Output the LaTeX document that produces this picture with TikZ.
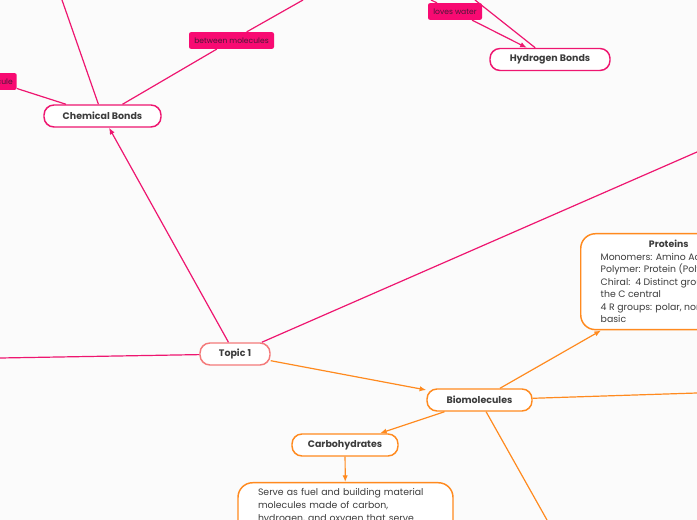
\documentclass[tikz,border=0pt]{standalone}
\usepackage{fontspec}
\setmainfont{Poppins}
\usetikzlibrary{arrows.meta}
\definecolor{pinkc}{HTML}{EE1670}
\definecolor{lblfill}{HTML}{F80A72}
\definecolor{lbltext}{HTML}{4A1838}
\definecolor{orangec}{HTML}{FF8A1F}
\definecolor{salmonc}{HTML}{F47A7A}
\definecolor{bgc}{HTML}{FBFBFB}
\definecolor{txtc}{HTML}{3C3C3C}
\begin{document}
\begin{tikzpicture}[x=0.75pt,y=-0.75pt,
  topicbox/.style={draw=#1, line width=1.1pt, fill=white, rounded corners=7.5pt,
    minimum height=16.5pt, inner sep=0pt, text=txtc,
    font=\fontsize{7.1}{8}\selectfont\bfseries},
  lbl/.style={fill=lblfill, rounded corners=1.5pt, minimum height=12.5pt, inner xsep=3pt,
    inner ysep=0pt, text=lbltext, font=\fontsize{5.7}{6}\selectfont},
  descbox/.style={draw=orangec, line width=1.1pt, fill=white, rounded corners=11pt,
    inner xsep=15pt, inner ysep=5pt, align=left, text=txtc},
  pinkline/.style={draw=pinkc, line width=0.9pt},
  orline/.style={draw=orangec, line width=0.9pt},
  arr/.style={-{Latex[length=5pt,width=4pt]}}
]
\useasboundingbox (0,0) rectangle (697,520);
\fill[bgc] (0,0) rectangle (697,520);
\clip (0,0) rectangle (697,520);

% free ends
\coordinate (leftEnd) at (0,358);
\coordinate (upRight) at (697,152);
\coordinate (chemTop) at (62,0);
\coordinate (chemTopR) at (303,0);
\coordinate (chemLeft) at (-80,64);
\coordinate (hbTopA) at (431,0);
\coordinate (hbTopB) at (475,0);
\coordinate (bioRight) at (697,393);
\coordinate (bioDown) at (547,520);

% main nodes
\node[topicbox=salmonc, minimum width=52.5pt] (topic) at (235,354) {Topic 1};
\node[topicbox=pinkc, minimum width=87.75pt] (chem) at (102.5,116) {Chemical Bonds};
\node[topicbox=pinkc, minimum width=90pt] (hb) at (550,59.5) {Hydrogen Bonds};
\node[topicbox=orangec, minimum width=78.75pt] (bio) at (479.5,400) {Biomolecules};
\node[topicbox=orangec, minimum width=79.5pt] (carb) at (345,445) {Carbohydrates};

\node[descbox, anchor=north west,
  font=\fontsize{7}{9.375}\selectfont] (prot) at (580,233)
  {\makebox[102pt][c]{\textbf{Proteins}}\\
   Monomers: Amino Acids\\
   Polymer: Protein (Polypeptide)\\
   Chiral:\ \ 4 Distinct groups around\\
   the C central\\
   4 R groups: polar, nonpolar, acidic,\\
   basic};
\coordinate (protIn) at (601,330.5);

\node[descbox, anchor=north, text width=131.25pt, inner ysep=4pt,
  font=\fontsize{7}{9.75}\selectfont] (carbdesc) at (345.5,482)
  {Serve as fuel and building material\\
   molecules made of carbon,\\
   hydrogen, and oxygen that serve\rule[-30pt]{0pt}{30pt}};

% labels
\node[lbl, minimum width=63.75pt] (betw) at (231.5,40.5) {between molecules};
\node[lbl, minimum width=40.5pt] (loves) at (455,11.5) {loves water};
\node[lbl, anchor=east] (molec) at (17,81.5) {molecule};

% connectors
\draw[pinkline, arr] (topic) -- (chem);
\draw[pinkline] (topic) -- (leftEnd);
\draw[pinkline] (topic) -- (upRight);
\draw[pinkline] (chem) -- (chemTop);
\draw[pinkline] (chem) -- (betw);
\draw[pinkline] (betw) -- (chemTopR);
\draw[pinkline] (chem) -- (molec);
\draw[pinkline] (molec) -- (chemLeft);
\draw[pinkline] (hbTopA) -- (loves);
\draw[pinkline, arr] (loves) -- (hb);
\draw[pinkline] (hbTopB) -- (hb);

\draw[orline, arr] (topic) -- (bio);
\draw[orline, arr] (bio) -- (carb);
\draw[orline, arr] (bio) -- (protIn);
\draw[orline] (bio) -- (bioRight);
\draw[orline] (bio) -- (bioDown);
\draw[orline, arr] (carb) -- (carbdesc);
\end{tikzpicture}
\end{document}
